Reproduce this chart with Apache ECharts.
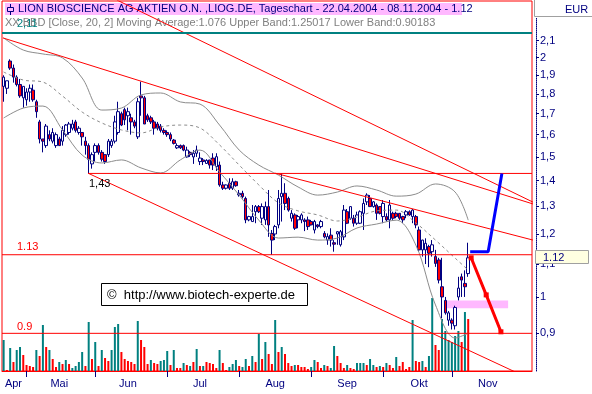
<!DOCTYPE html>
<html><head><meta charset="utf-8">
<script src="https://cdn.jsdelivr.net/npm/echarts@6/dist/echarts.min.js"></script>
<style>html,body{margin:0;padding:0;background:#fff}#c{width:592px;height:394px}</style>
</head><body><div id="c"></div>
<script>
// ---- data (prices in EUR) ----
const opens = [1.84,1.83,1.98,1.94,1.89,1.85,1.78,1.77,1.81,1.82,1.76,1.66,1.58,1.55,1.60,1.57,1.55,1.58,1.57,1.60,1.61,1.63,1.66,1.61,1.61,1.57,1.55,1.47,1.52,1.55,1.52,1.51,1.51,1.55,1.57,1.61,1.70,1.72,1.69,1.68,1.66,1.59,1.79,1.78,1.69,1.68,1.66,1.65,1.64,
1.62,1.61,1.60,1.575,1.54,1.55,1.55,1.50,1.52,1.50,1.516,1.48,1.487,1.472,1.487,1.495,1.458,1.465,1.383,1.37,1.39,1.37,1.396,1.344,1.35,1.33,1.25,1.244,1.28,1.299,1.256,1.25,1.299,1.202,1.20,1.232,1.337,1.35,1.33,1.256,1.268,1.25,1.25,1.25,1.25,1.244,1.214,1.232,1.226,
1.202,1.179,1.196,1.17,1.20,1.163,1.19,1.28,1.256,1.256,1.238,1.238,1.274,1.317,1.33,1.299,1.305,1.299,1.262,1.262,1.25,1.274,1.274,1.274,1.262,1.268,1.28,1.262,1.262,1.214,1.146,1.146,1.157,1.14,1.124,1.113,
1.03,0.99,0.935,0.935,0.92,1.0,1.06,1.04,1.07];
const closes = [1.89,1.87,1.94,1.89,1.85,1.79,1.84,1.81,1.83,1.77,1.71,1.58,1.57,1.64,1.58,1.61,1.60,1.55,1.62,1.645,1.65,1.65,1.62,1.63,1.59,1.55,1.49,1.51,1.55,1.52,1.49,1.48,1.57,1.57,1.66,1.71,1.645,1.67,1.71,1.66,1.64,1.76,1.78,1.65,1.67,1.66,1.63,1.63,1.62,
1.61,1.60,1.58,1.56,1.55,1.54,1.53,1.53,1.51,1.516,1.53,1.495,1.48,1.485,1.465,1.465,1.501,1.383,1.37,1.383,1.37,1.396,1.38,1.35,1.337,1.25,1.262,1.262,1.299,1.28,1.299,1.299,1.232,1.179,1.226,1.33,1.35,1.311,1.286,1.274,1.22,1.262,1.268,1.244,1.226,1.232,1.244,1.226,1.244,
1.19,1.191,1.179,1.165,1.208,1.208,1.286,1.238,1.299,1.238,1.268,1.28,1.311,1.343,1.299,1.317,1.274,1.274,1.311,1.25,1.305,1.256,1.262,1.256,1.25,1.28,1.268,1.286,1.232,1.146,1.179,1.168,1.135,1.163,1.102,1.05,
1.0,0.955,0.955,0.927,0.97,1.026,1.05,1.03,1.12];
const lows = [1.76,1.80,1.93,1.86,1.84,1.78,1.73,1.74,1.76,1.76,1.68,1.56,1.52,1.54,1.57,1.56,1.54,1.55,1.55,1.59,1.60,1.62,1.61,1.60,1.55,1.51,1.43,1.45,1.48,1.51,1.48,1.47,1.50,1.54,1.56,1.60,1.64,1.645,1.62,1.60,1.63,1.58,1.69,1.65,1.66,1.65,1.60,1.62,1.61,
1.60,1.59,1.57,1.555,1.535,1.535,1.525,1.497,1.50,1.47,1.50,1.465,1.465,1.47,1.45,1.444,1.44,1.376,1.363,1.365,1.363,1.363,1.376,1.337,1.33,1.238,1.245,1.244,1.238,1.275,1.232,1.232,1.19,1.13,1.179,1.22,1.244,1.286,1.28,1.244,1.214,1.22,1.238,1.21,1.214,1.23,1.202,1.22,1.22,
1.185,1.163,1.157,1.14,1.163,1.157,1.179,1.235,1.25,1.226,1.232,1.235,1.214,1.305,1.299,1.295,1.25,1.27,1.238,1.244,1.22,1.25,1.256,1.25,1.238,1.256,1.265,1.238,1.22,1.14,1.124,1.10,1.09,1.124,1.091,1.04,
0.94,0.95,0.92,0.91,0.91,0.99,1.0,1.0,1.06];
const highs = [1.90,1.87,1.99,1.96,1.90,1.88,1.84,1.83,1.85,1.85,1.77,1.67,1.58,1.65,1.62,1.63,1.61,1.59,1.64,1.65,1.66,1.67,1.67,1.64,1.61,1.59,1.56,1.52,1.56,1.56,1.53,1.51,1.58,1.58,1.69,1.76,1.71,1.73,1.73,1.70,1.67,1.78,1.865,1.79,1.70,1.69,1.67,1.66,1.65,
1.63,1.62,1.61,1.58,1.56,1.555,1.555,1.545,1.525,1.53,1.55,1.52,1.495,1.49,1.487,1.516,1.516,1.48,1.396,1.385,1.41,1.41,1.40,1.363,1.36,1.337,1.265,1.305,1.305,1.305,1.311,1.318,1.363,1.214,1.232,1.363,1.431,1.39,1.337,1.286,1.274,1.268,1.274,1.256,1.262,1.25,1.25,1.235,1.25,
1.21,1.202,1.22,1.179,1.21,1.214,1.305,1.29,1.30,1.268,1.28,1.285,1.33,1.35,1.343,1.32,1.311,1.30,1.324,1.274,1.324,1.28,1.28,1.275,1.265,1.286,1.285,1.29,1.268,1.226,1.18,1.185,1.163,1.179,1.146,1.12,
1.12,1.0,0.96,0.94,0.975,1.06,1.07,1.08,1.17];
// volume (thousand shares) and day direction (1 = up/teal, 0 = down/red)
const volume = [31,1,23,9,21,24,16,6,5,4,21,15,46,24,21,12,4,9,7,11,7,3,5,9,19,5,49,12,29,5,21,13,10,21,44,47,19,12,10,9,7,50,31,24,7,11,8,7,10,11,20,6,21,3,3,8,6,5,9,22,5,5,9,8,7,3,21,8,1,4,7,11,5,4,12,5,15,9,37,12,29,17,7,51,19,24,17,8,5,6,6,
4,4,2,4,11,9,3,6,5,3,25,15,8,3,6,3,2,8,8,8,6,12,6,4,5,4,8,6,3,14,5,9,2,4,51,10,9,10,4,15,73,26,21,52,40,31,29,35,40,29,59,52];
const volUp = [1,0,1,0,1,1,0,0,0,0,1,0,1,0,1,0,0,1,0,1,0,1,1,1,1,0,1,0,1,0,1,0,0,1,1,1,0,0,0,0,0,1,0,0,0,1,0,0,1,1,1,0,1,0,0,1,0,1,0,1,0,1,0,0,0,0,1,0,0,1,1,1,0,1,1,0,1,0,1,0,1,0,0,1,0,1,0,0,0,1,0,
0,0,0,1,1,0,0,1,0,1,1,0,0,0,1,0,0,1,1,1,0,1,1,0,1,0,1,0,0,1,0,0,0,0,1,0,0,1,0,1,1,0,0,1,1,1,1,1,1,0,1,0];
// Bollinger band (Close,20,2) read at these bar indices
const bbIdx   = [0,6,12,18,24,30,36,42,48,54,60,66,72,78,84,90,96,102,108,114,120,126,132,138,142];
const bbUpper = [2.117,2.044,2.021,1.998,1.885,1.718,1.728,1.795,1.805,1.759,1.748,1.645,1.530,1.465,1.423,1.375,1.343,1.355,1.379,1.363,1.339,1.347,1.387,1.355,1.249];
const bbMid   = [1.918,1.874,1.863,1.789,1.708,1.655,1.622,1.608,1.636,1.645,1.631,1.553,1.465,1.383,1.313,1.283,1.268,1.246,1.260,1.283,1.286,1.239,1.179,1.119,1.081];
const bbLower = [1.679,1.728,1.738,1.622,1.508,1.474,1.487,1.453,1.432,1.487,1.530,1.436,1.343,1.249,1.186,1.189,1.179,1.186,1.221,1.235,1.249,1.162,0.977,0.888,0.900];
// axis
const slots = 162;                       // trading-day slots incl. empty projection space
const yTicks = [0.9,1,1.1,1.2,1.3,1.4,1.5,1.6,1.7,1.8,1.9,2,2.1];
const yMin = 0.807, yMax = 2.356;
const monthLabels   = ['Apr','Mai','Jun','Jul','Aug','Sep','Okt','Nov'];
const monthLabelIdx = [3,17,38,60,83,105,127,148];
const monthStartIdx = [7,28,50,72,94,116,137];
// drawn lines: [barIndex, price]
const trendUpperA = [[-0.2,2.117],[161.8,1.309]];
const trendUpperB = [[34.6,2.363],[161.8,1.316]];
const trendMid    = [[83.0,1.431],[161.8,1.179]];
const trendLower  = [[25.8,1.431],[156.3,0.805]];
const level143 = [[25.8,1.43],[161.5,1.43]];
const level113 = [[-0.5,1.13],[161.5,1.13]];
const level090 = [[-0.5,0.90],[161.5,0.90]];
const tealLevel = [[-0.5,2.148],[161.5,2.148]];
const projUp   = [[142.6,1.14],[148.1,1.14],[152.3,1.43]];
const projDown = [[142.9,1.12],[147.5,1.006],[152.0,0.904]];
const pinkZone = {x0:135.2, x1:154.2, p0:0.968, p1:0.990};

const L = Math.log;
const cats = Array.from({length: slots}, (_, i) => String(i));
const ohlc = opens.map((o, i) => [L(o), L(closes[i]), L(lows[i]), L(highs[i])]);
const P = pts => pts.map(p => [p[0], L(p[1])]);
const FONT = '"Liberation Sans", Arial, sans-serif';
const NAVY = '#000080';

function line(pts, color, width, type, z) {
  return {type:'line', xAxisIndex:1, yAxisIndex:0, data:P(pts), symbol:'none', silent:true,
    lineStyle:{color, width, type: type || 'solid'}, z: z || 5, animation:false};
}
function band(vals, type) {
  return {type:'line', xAxisIndex:1, yAxisIndex:0, data: bbIdx.map((b,k)=>[b, L(vals[k])]),
    symbol:'none', smooth:0.35, silent:true, lineStyle:{color:'#8c8c8c', width:1, type}, z:4, animation:false};
}

const chart = echarts.init(document.getElementById('c'), null, {renderer:'canvas'});
chart.setOption({
  animation:false,
  backgroundColor:'#ffffff',
  textStyle:{fontFamily:FONT},
  grid:{left:2, top:1, width:530, height:370, show:true, borderColor:'#ff0000', borderWidth:1, backgroundColor:'transparent'},
  xAxis:[
    {type:'category', data:cats, boundaryGap:true,
     axisLine:{show:true, onZero:false, lineStyle:{color:'#ff0000'}},
     axisTick:{show:true, alignWithLabel:true, length:6, interval:(i)=>monthStartIdx.includes(i), lineStyle:{color:NAVY}},
     axisLabel:{show:true, interval:(i)=>monthLabelIdx.includes(i), formatter:(v,i)=>monthLabels[monthLabelIdx.indexOf(i)] || '',
       color:NAVY, fontSize:11, fontFamily:FONT, margin:7},
     splitLine:{show:false}},
    {type:'value', min:-0.5, max:slots-0.5, show:false, axisLine:{onZero:false}, splitLine:{show:false}}
  ],
  yAxis:[
    {type:'value', position:'right', offset:4, min:L(yMin), max:L(yMax),
     axisLine:{show:true, onZero:false, lineStyle:{color:NAVY, type:'dotted'}},
     axisTick:{show:true, length:3, customValues:yTicks.map(L), lineStyle:{color:NAVY}},
     axisLabel:{show:true, customValues:yTicks.map(L), margin:4, color:NAVY, fontSize:11, fontFamily:FONT,
       formatter:v=>String(Math.round(Math.exp(v)*10)/10).replace('.',',')},
     splitLine:{show:false}},
    {type:'value', min:0, max:370, show:false, axisLine:{onZero:false}, splitLine:{show:false}}
  ],
  series:[
    {type:'bar', xAxisIndex:0, yAxisIndex:1, barWidth:2, silent:true, z:2,
     data: volume.map((v,i)=>({value:v, itemStyle:{color: volUp[i] ? '#008080' : '#ff0000'}}))},
    {type:'line', xAxisIndex:1, yAxisIndex:0, data:[], silent:true, z:1,
     markArea:{silent:true, itemStyle:{color:'#ffb8ff', opacity:1},
       data:[[{coord:[pinkZone.x0, L(pinkZone.p1)]},{coord:[pinkZone.x1, L(pinkZone.p0)]}]]}},
    band(bbUpper,'solid'), band(bbLower,'solid'), band(bbMid,[3,3]),
    {type:'candlestick', xAxisIndex:0, yAxisIndex:0, data:ohlc, barWidth:3, silent:true, z:3,
     itemStyle:{color:'#ffffff', color0:'#ff0000', borderColor:NAVY, borderColor0:NAVY, borderColorDoji:NAVY, borderWidth:1}},
    line(trendUpperA,'#ff0000',1), line(trendUpperB,'#ff0000',1), line(trendMid,'#ff0000',1), line(trendLower,'#ff0000',1),
    line(level143,'#ff0000',1), line(level113,'#ff0000',1), line(level090,'#ff0000',1),
    line(tealLevel,'#008080',2),
    line(projUp,'#0000ff',3,'solid',6),
    Object.assign(line(projDown,'#ff0000',3,'solid',6), {symbol:'rect', symbolSize:5, showSymbol:true, itemStyle:{color:'#ff0000'}})
  ],
  graphic:[
    {type:'rect', shape:{x:5, y:3, width:457, height:12}, style:{fill:'#ffb8ff'}, z:0},
    {type:'line', shape:{x1:10.5, y1:4, x2:10.5, y2:15}, style:{stroke:NAVY, lineWidth:1}, z:1},
    {type:'rect', shape:{x:7.5, y:7.5, width:6, height:4}, style:{fill:'#ffb8ff', stroke:NAVY, lineWidth:1}, z:1},
    {type:'text', x:18, y:9, style:{text:'LION BIOSCIENCE AG AKTIEN O.N. ,LIOG.DE, Tageschart - 22.04.2004 - 08.11.2004 - 1.12', fill:NAVY, font:'11px '+FONT, verticalAlign:'middle'}, z:1},
    {type:'text', x:5, y:23, style:{text:'XX BBD [Close, 20, 2] Moving Average:1.076 Upper Band:1.25017 Lower Band:0.90183', fill:'#808080', font:'11px '+FONT, verticalAlign:'middle'}, z:1},
    {type:'text', x:17, y:24, style:{text:'2,11', fill:'#008080', font:'11px '+FONT, verticalAlign:'middle'}, z:1},
    {type:'rect', shape:{x:533, y:0, width:59, height:18}, style:{fill:'#ffffff'}, z:9},
    {type:'line', shape:{x1:534.5, y1:0, x2:534.5, y2:16.5}, style:{stroke:'#a0a0a0', lineWidth:1}, z:10},
    {type:'line', shape:{x1:534.5, y1:16.5, x2:592, y2:16.5}, style:{stroke:'#a0a0a0', lineWidth:1}, z:10},
    {type:'text', x:565, y:10, style:{text:'EUR', fill:NAVY, font:'11px '+FONT, verticalAlign:'middle'}, z:12},
    {type:'text', x:89, y:184, style:{text:'1,43', fill:'#000000', font:'11px '+FONT, verticalAlign:'middle'}, z:12},
    {type:'text', x:17, y:247, style:{text:'1.13', fill:'#ff0000', font:'11px '+FONT, verticalAlign:'middle'}, z:12},
    {type:'text', x:17, y:327, style:{text:'0.9', fill:'#ff0000', font:'11px '+FONT, verticalAlign:'middle'}, z:12},
    {type:'rect', shape:{x:101.5, y:283.5, width:206, height:22}, style:{fill:'#ffffff', stroke:'#000000', lineWidth:1}, z:10},
    {type:'text', x:107, y:295, style:{text:'©  http://www.biotech-experte.de', fill:'#000000', font:'13px '+FONT, verticalAlign:'middle'}, z:11},
    {type:'rect', shape:{x:535.5, y:250.5, width:53, height:13}, style:{fill:'#ffffe1', stroke:'#a0a0a0', lineWidth:1}, z:10},
    {type:'text', x:543, y:257.5, style:{text:'1.12', fill:NAVY, font:'11px '+FONT, verticalAlign:'middle'}, z:11}
  ]
});
</script></body></html>
